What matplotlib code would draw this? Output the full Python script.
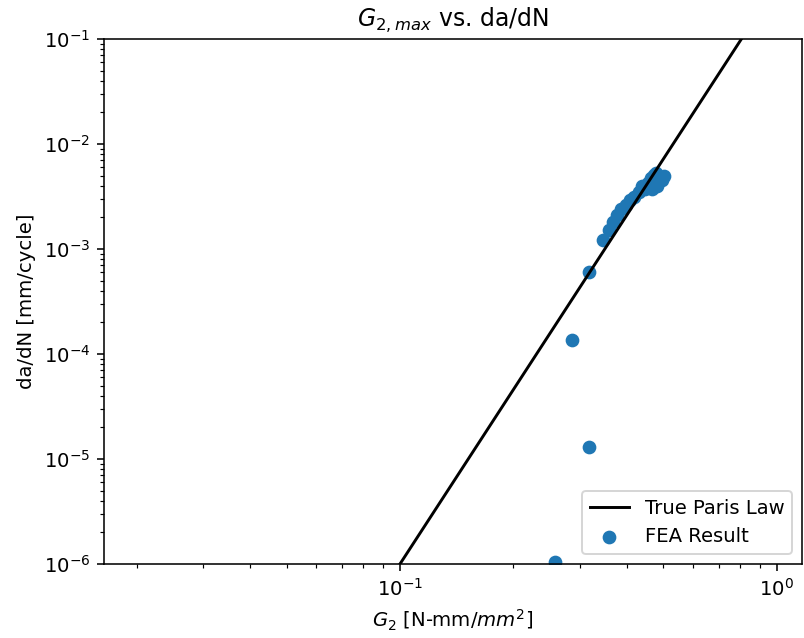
import matplotlib
matplotlib.use("Agg")
import matplotlib.pyplot as plt

# true Paris law line (two end points on log-log)
paris_G = [0.1, 0.805]
paris_dadn = [1e-6, 1e-1]

# FEA results
fea_G = [0.2576, 0.318, 0.286, 0.3167, 0.3455, 0.3584, 0.3673, 0.3763, 0.3856,
         0.3976, 0.4074, 0.4175, 0.4305, 0.4385, 0.4467, 0.4550, 0.4634, 0.4720,
         0.4775, 0.4864, 0.4955, 0.5016, 0.4805, 0.4662]
fea_dadn = [1.05e-6, 1.31e-5, 1.36e-4, 6.0e-4, 1.22e-3, 1.52e-3, 1.81e-3, 2.11e-3, 2.40e-3,
            2.62e-3, 2.93e-3, 3.13e-3, 3.49e-3, 3.98e-3, 3.73e-3, 4.25e-3, 4.74e-3, 5.07e-3,
            5.29e-3, 4.85e-3, 4.54e-3, 4.96e-3, 3.98e-3, 3.73e-3]

fig = plt.figure(figsize=(804/141, 638/141), dpi=141)
ax = fig.add_axes([0.1294, 0.116, 0.868, 0.8229])

ax.plot(paris_G, paris_dadn, 'k', label='True Paris Law')
ax.scatter(fea_G, fea_dadn, label='FEA Result')
ax.set_xscale('log')
ax.set_yscale('log')
ax.set_xlim(0.0164, 1.165)
ax.set_ylim(1e-6, 1e-1)
ax.set_title(r'$G_{2,max}$ vs. da/dN')
ax.set_xlabel(r'$G_2$ [N-mm/$mm^2$]')
ax.set_ylabel('da/dN [mm/cycle]')
ax.legend(loc='lower right')

fig.savefig('out.png', dpi=141)
